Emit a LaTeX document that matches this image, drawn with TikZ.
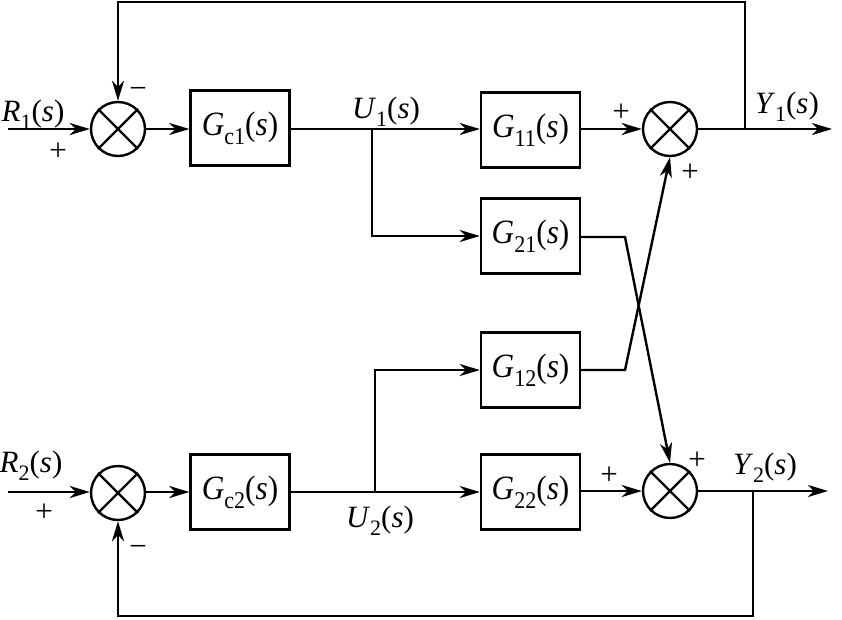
\documentclass[tikz,border=0pt]{standalone}
\usepackage{fontspec}
\setmainfont{Liberation Serif}
\newfontfamily\boxfont{Liberation Serif}[FakeStretch=0.92]
\usetikzlibrary{arrows.meta}
\newcommand{\sbs}[1]{\raisebox{-0.28em}{\fontsize{22}{22}\selectfont #1}}
\newcommand{\bsbs}[1]{\raisebox{-0.26em}{\fontsize{24}{24}\selectfont #1}}
\newcommand{\tfn}[2]{\textit{#1}\bsbs{#2}(\textit{s})}
\newcommand{\crs}[1]{\draw (#1.45)--(#1.225) (#1.135)--(#1.315);}
\begin{document}
\begin{tikzpicture}[x=1pt,y=-1pt,
  line width=2.4pt,
  every node/.style={font=\fontsize{31}{33}\selectfont},
  blk/.style={draw, minimum width=99pt, minimum height=75pt, inner sep=0pt,
    font=\boxfont\fontsize{34}{36}\selectfont},
  sumn/.style={draw, circle, minimum size=54pt, inner sep=0pt},
  arr/.style={-{Stealth[length=20pt,width=12pt,inset=6pt]}},
  lbl/.style={anchor=base, inner sep=0pt},
  sgn/.style={inner sep=0pt}]
\useasboundingbox (0,0) rectangle (842,619);
% sum junctions
\node[sumn] (s1) at (118,129) {};
\node[sumn] (s2) at (670,129) {};
\node[sumn] (s3) at (670,491) {};
\node[sumn] (s4) at (118,493) {};
\crs{s1}\crs{s2}\crs{s3}\crs{s4}
% blocks
\node[blk] (gc1) at (240,128) {\tfn{G}{c1}};
\node[blk] (g11) at (530.5,130) {\tfn{G}{11}};
\node[blk] (g21) at (530.5,236) {\tfn{G}{21}};
\node[blk] (g12) at (530.5,370) {\tfn{G}{12}};
\node[blk] (g22) at (530.5,492) {\tfn{G}{22}};
\node[blk] (gc2) at (240,492) {\tfn{G}{c2}};
% coordinates
\coordinate (in1) at (8,129);
\coordinate (in2) at (8,492);
\coordinate (b1) at (372,129);
\coordinate (b2) at (375,492);
\coordinate (t1) at (745,129);
\coordinate (t2) at (753,491);
\coordinate (o1) at (832,129);
\coordinate (o2) at (828,491);
\coordinate (c21) at (625,237);
\coordinate (c12) at (625,370);
\coordinate (top) at (745,2);
\coordinate (bot) at (753,616);
% top row
\draw[arr] (in1) -- (s1.west);
\draw[arr] (s1.east) -- (gc1.west |- s1);
\draw[arr] (gc1.east |- b1) -- (g11.west |- b1);
\draw[arr] (b1) |- (g21.west);
\draw[arr] (g11.east |- s2) -- (s2.west);
\draw[arr] (s2.east) -- (o1);
\draw[arr] (t1) -- (top) -| (s1.north);
% bottom row
\draw[arr] (in2) -- (s4.west |- in2);
\draw[arr] (s4.east |- in2) -- (gc2.west);
\draw[arr] (gc2.east) -- (g22.west);
\draw[arr] (b2) |- (g12.west);
\draw[arr] (g22.east |- s3) -- (s3.west);
\draw[arr] (s3.east) -- (o2);
\draw[arr] (t2) -- (bot) -| (s4.south);
% cross links
\draw[arr] (g21.east |- c21) -- (c21) -- (s3.north);
\draw[arr] (g12.east |- c12) -- (c12) -- (s2.south);
% labels
\node[lbl] (lr1) at (33,121) {\textit{R}\sbs{1}(\textit{s})};
\node[lbl] (lu1) at (386,118) {\textit{U}\sbs{1}(\textit{s})};
\node[lbl] (ly1) at (787,113) {\textit{Y}\sbs{1}(\textit{s})};
\node[lbl] (lr2) at (31,472) {\textit{R}\sbs{2}(\textit{s})};
\node[lbl] (lu2) at (380,527) {\textit{U}\sbs{2}(\textit{s})};
\node[lbl] (ly2) at (765,474) {\textit{Y}\sbs{2}(\textit{s})};
% signs
\node[sgn] (p1) at (58,152) {+};
\node[sgn] (m1) at (138,93) {−};
\node[sgn] (p2) at (621,113) {+};
\node[sgn] (p3) at (690,173) {+};
\node[sgn] (p4) at (44,513) {+};
\node[sgn] (m2) at (138,551) {−};
\node[sgn] (p5) at (609,476) {+};
\node[sgn] (p6) at (697,461) {+};
\end{tikzpicture}
\end{document}
